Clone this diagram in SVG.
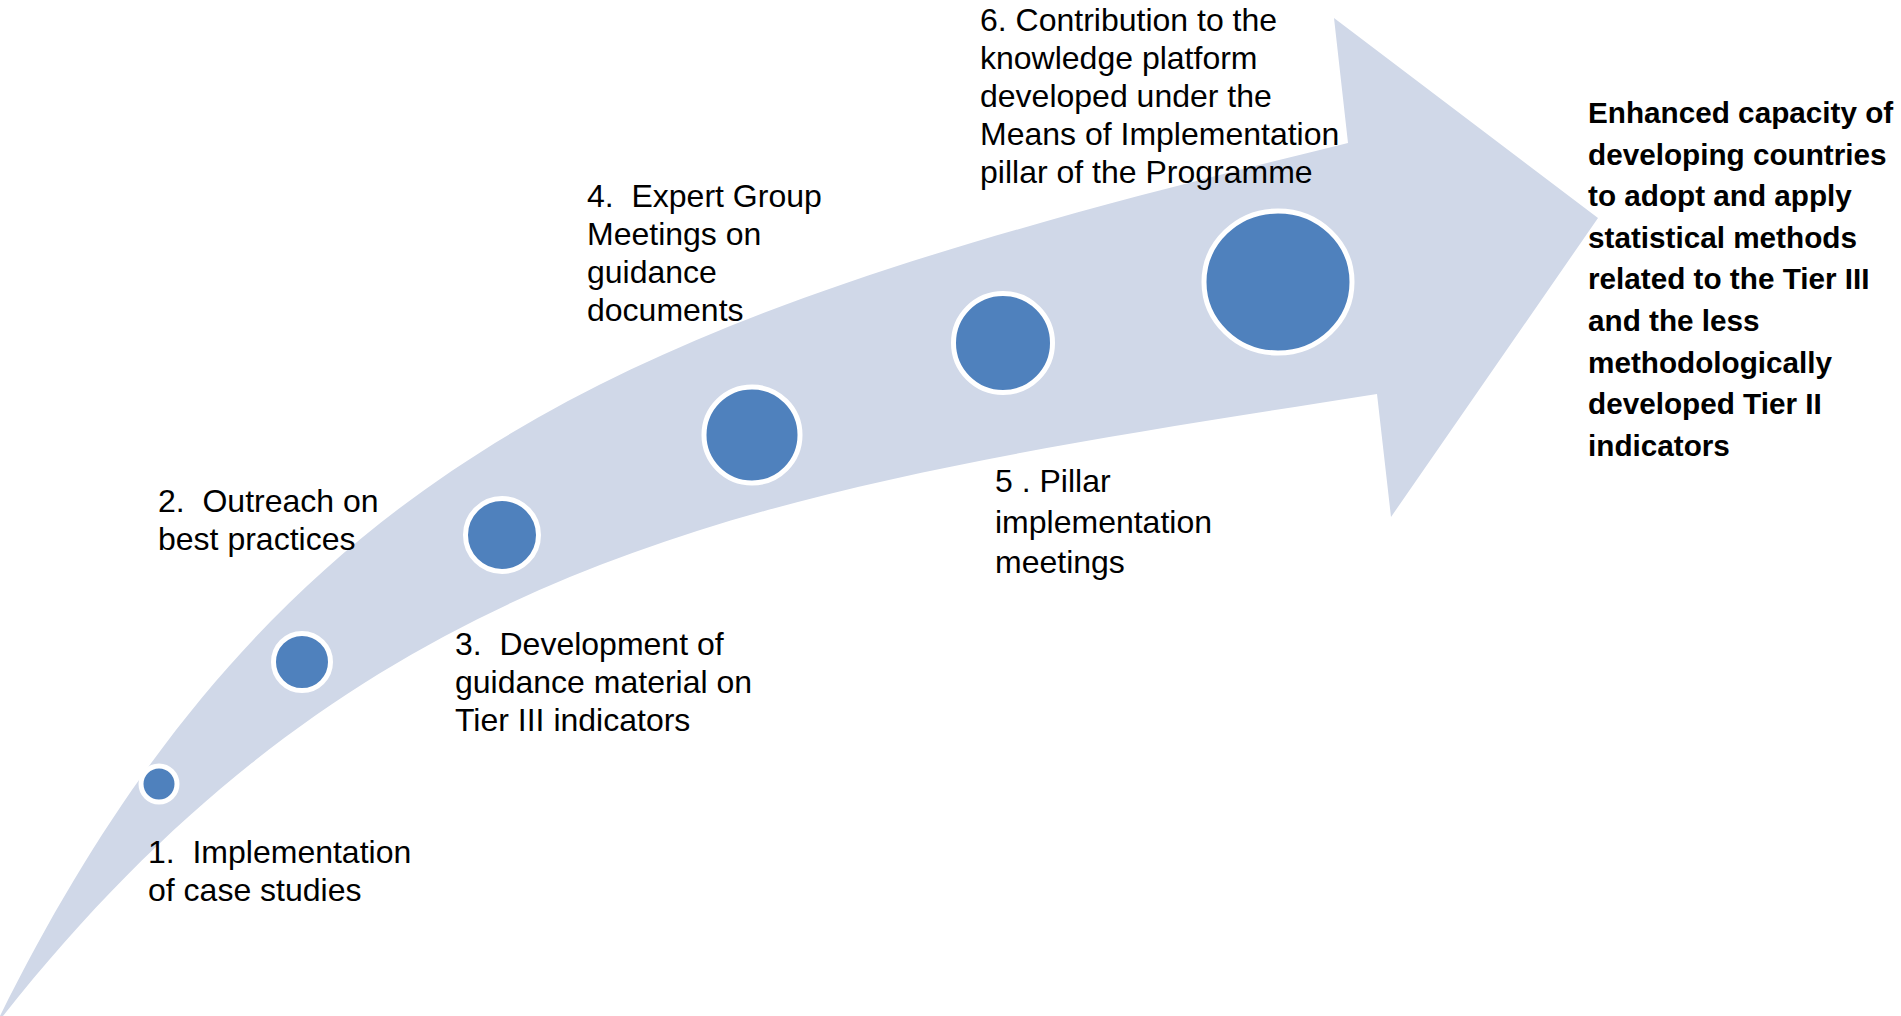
<svg xmlns="http://www.w3.org/2000/svg" width="1901" height="1016" viewBox="0 0 1901 1016">
<style>
.band{fill:#D0D8E8;stroke:none}
.dot{fill:#4F81BD;stroke:#FFFFFF;stroke-width:5}
.lbl{font-family:"Liberation Sans",Arial,sans-serif;font-size:32px;fill:#000;white-space:pre}
.out{font-family:"Liberation Sans",Arial,sans-serif;font-size:29.7px;font-weight:bold;fill:#000}
</style>
<rect x="0" y="0" width="1901" height="1016" fill="#FFFFFF"/>
<g id="connectors">
<path class="band" d="M0,1016 C289,433 669,310 1348,143 L1334,18 L1598,218 L1391,517 L1377,394 C786,487 380,540 3,1016 Z"/>
</g>
<g id="step1">
<circle class="dot" cx="159" cy="784" r="18"/>
<text class="lbl" x="148" y="863">1.  Implementation<tspan x="148" y="901">of case studies</tspan></text>
</g>
<g id="step2">
<circle class="dot" cx="302" cy="662" r="28.5"/>
<text class="lbl" x="158" y="512">2.  Outreach on<tspan x="158" y="550">best practices</tspan></text>
</g>
<g id="step3">
<circle class="dot" cx="502" cy="535" r="36.5"/>
<text class="lbl" x="455" y="655">3.  Development of<tspan x="455" y="693">guidance material on</tspan><tspan x="455" y="731">Tier III indicators</tspan></text>
</g>
<g id="step4">
<circle class="dot" cx="752" cy="435" r="48"/>
<text class="lbl" x="587" y="207">4.  Expert Group<tspan x="587" y="245">Meetings on</tspan><tspan x="587" y="283">guidance</tspan><tspan x="587" y="321">documents</tspan></text>
</g>
<g id="step5">
<circle class="dot" cx="1003" cy="343" r="49.5"/>
<text class="lbl" x="995" y="492">5 . Pillar<tspan x="995" y="533">implementation</tspan><tspan x="995" y="573">meetings</tspan></text>
</g>
<g id="step6">
<ellipse class="dot" cx="1278" cy="282" rx="74" ry="71"/>
<text class="lbl" x="980" y="31">6. Contribution to the<tspan x="980" y="69">knowledge platform</tspan><tspan x="980" y="107">developed under the</tspan><tspan x="980" y="145">Means of Implementation</tspan><tspan x="980" y="183">pillar of the Programme</tspan></text>
</g>
<g id="outcome">
<text class="out" x="1588" y="123">Enhanced capacity of<tspan x="1588" y="164.6">developing countries</tspan><tspan x="1588" y="206.2">to adopt and apply</tspan><tspan x="1588" y="247.8">statistical methods</tspan><tspan x="1588" y="289.4">related to the Tier III</tspan><tspan x="1588" y="331">and the less</tspan><tspan x="1588" y="372.6">methodologically</tspan><tspan x="1588" y="414.2">developed Tier II</tspan><tspan x="1588" y="455.8">indicators</tspan></text>
</g>
</svg>
